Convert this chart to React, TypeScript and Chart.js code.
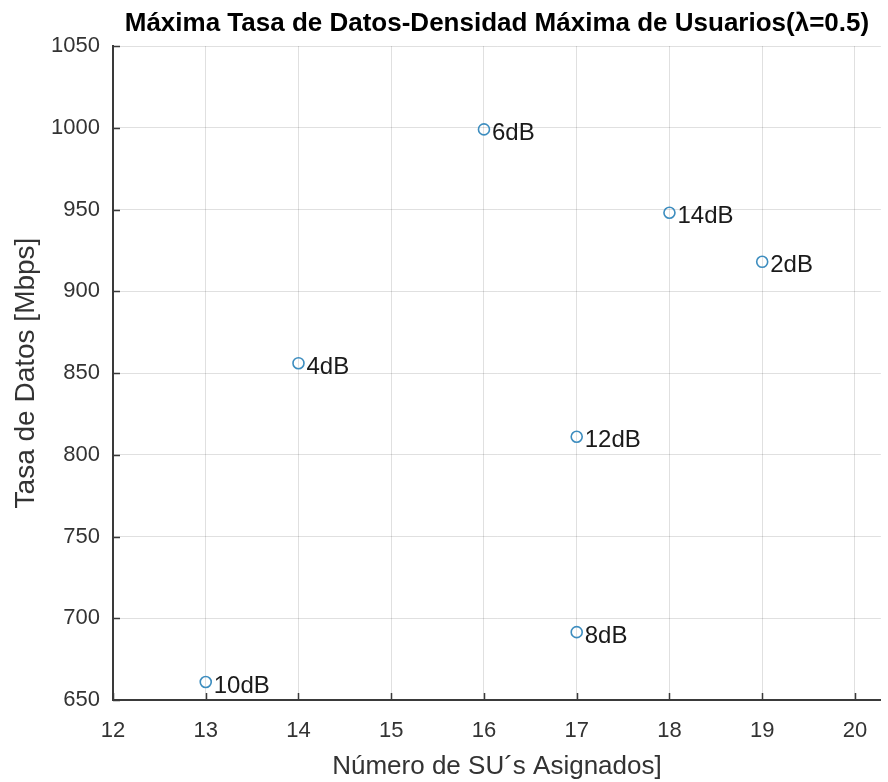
import React, { useEffect, useRef } from "react";
import { Chart, registerables } from "chart.js";

Chart.register(...registerables);

const pointLabels = ["2dB", "4dB", "6dB", "8dB", "10dB", "12dB", "14dB"];
const xValues = [19, 14, 16, 17, 13, 17, 18];
const yValues = [918, 856, 999, 691.5, 661, 811, 948];
const xTickValues = [12, 13, 14, 15, 16, 17, 18, 19, 20];
const yTickValues = [650, 700, 750, 800, 850, 900, 950, 1000, 1050];

const titleText = "Máxima Tasa de Datos-Densidad Máxima de Usuarios(λ=0.5)";
const xTitle = "Número de SU´s Asignados]";
const yTitle = "Tasa de Datos [Mbps]";

const FONT = "'Liberation Sans', Arial, Helvetica, sans-serif";
const AXIS_COLOR = "#3a3a3a";
const TEXT_COLOR = "#333333";
const MARKER_COLOR = "#3d8dbf";

const extrasPlugin = {
  id: "extras",
  afterDatasetsDraw(chart: any) {
    const ctx = chart.ctx;
    const area = chart.chartArea;
    const xs = chart.scales.x;
    const ys = chart.scales.y;
    ctx.save();
    ctx.strokeStyle = AXIS_COLOR;
    ctx.lineWidth = 1.5;
    ctx.beginPath();
    xTickValues.forEach((v) => {
      const px = Math.round(xs.getPixelForValue(v)) + 0.5;
      ctx.moveTo(px, area.bottom);
      ctx.lineTo(px, area.bottom - 7);
    });
    yTickValues.forEach((v) => {
      const py = Math.round(ys.getPixelForValue(v)) + 0.5;
      ctx.moveTo(area.left, py);
      ctx.lineTo(area.left + 7, py);
    });
    ctx.stroke();
    const meta = chart.getDatasetMeta(0);
    ctx.fillStyle = "#1a1a1a";
    ctx.font = `24px ${FONT}`;
    ctx.textAlign = "left";
    ctx.textBaseline = "middle";
    meta.data.forEach((el: any, i: number) => {
      ctx.fillText(pointLabels[i], el.x + 8, el.y + 4);
    });
    ctx.restore();
  },
};

export default function App() {
  const ref = useRef<HTMLCanvasElement | null>(null);
  useEffect(() => {
    if (!ref.current) return;
    const data = xValues.map((x, i) => ({ x, y: yValues[i] }));
    const chart = new Chart(ref.current, {
      type: "scatter",
      data: {
        datasets: [
          {
            label: "Tasa",
            data,
            pointRadius: 5.5,
            pointHoverRadius: 5.5,
            pointBorderWidth: 1.6,
            pointBorderColor: MARKER_COLOR,
            pointBackgroundColor: "rgba(255,255,255,0)",
            showLine: false,
          },
        ],
      },
      options: {
        responsive: false,
        animation: false,
        devicePixelRatio: 1,
        layout: { padding: { left: 0, right: 0, top: 0, bottom: 0 } },
        plugins: {
          legend: { display: false },
          tooltip: { enabled: false },
          title: {
            display: true,
            text: titleText,
            fullSize: false,
            color: "#000",
            font: { family: FONT, size: 26, weight: "bold", lineHeight: 1.2 },
            padding: { top: 8.5, bottom: 6.3 },
          },
        },
        scales: {
          x: {
            type: "linear",
            min: 12,
            max: 20.28,
            afterFit: (s: any) => {
              s.height = 82;
            },
            afterBuildTicks: (s: any) => {
              s.ticks = xTickValues.map((v) => ({ value: v }));
            },
            ticks: {
              color: TEXT_COLOR,
              font: { family: FONT, size: 22 },
              padding: 18,
              maxRotation: 0,
              includeBounds: false,
              callback: (v: any) => String(v),
            },
            grid: {
              color: "rgba(0,0,0,0.12)",
              lineWidth: 1,
              drawTicks: false,
              tickLength: 0,
            },
            border: { display: true, color: AXIS_COLOR, width: 2 },
            title: {
              display: true,
              text: xTitle,
              color: TEXT_COLOR,
              font: { family: FONT, size: 26, lineHeight: 1.2 },
              padding: { top: 0, bottom: 0 },
            },
          },
          y: {
            type: "linear",
            min: 650,
            max: 1050,
            afterFit: (s: any) => {
              s.width = 113;
            },
            afterBuildTicks: (s: any) => {
              s.ticks = yTickValues.map((v) => ({ value: v }));
            },
            ticks: {
              color: TEXT_COLOR,
              font: { family: FONT, size: 22 },
              padding: 13,
              includeBounds: false,
              callback: (v: any) => String(v),
            },
            grid: {
              color: "rgba(0,0,0,0.12)",
              lineWidth: 1,
              drawTicks: false,
              tickLength: 0,
            },
            border: { display: true, color: AXIS_COLOR, width: 2 },
            title: {
              display: true,
              text: yTitle,
              color: TEXT_COLOR,
              font: { family: FONT, size: 28, lineHeight: 1.2 },
              padding: { top: 9, bottom: 0 },
            },
          },
        },
      },
      plugins: [extrasPlugin],
    });
    return () => chart.destroy();
  }, []);
  return (
    <div style={{ position: "fixed", left: 0, top: 0, width: 888, height: 782, background: "#fff" }}>
      <canvas ref={ref} width={888} height={782} style={{ display: "block" }} />
    </div>
  );
}
